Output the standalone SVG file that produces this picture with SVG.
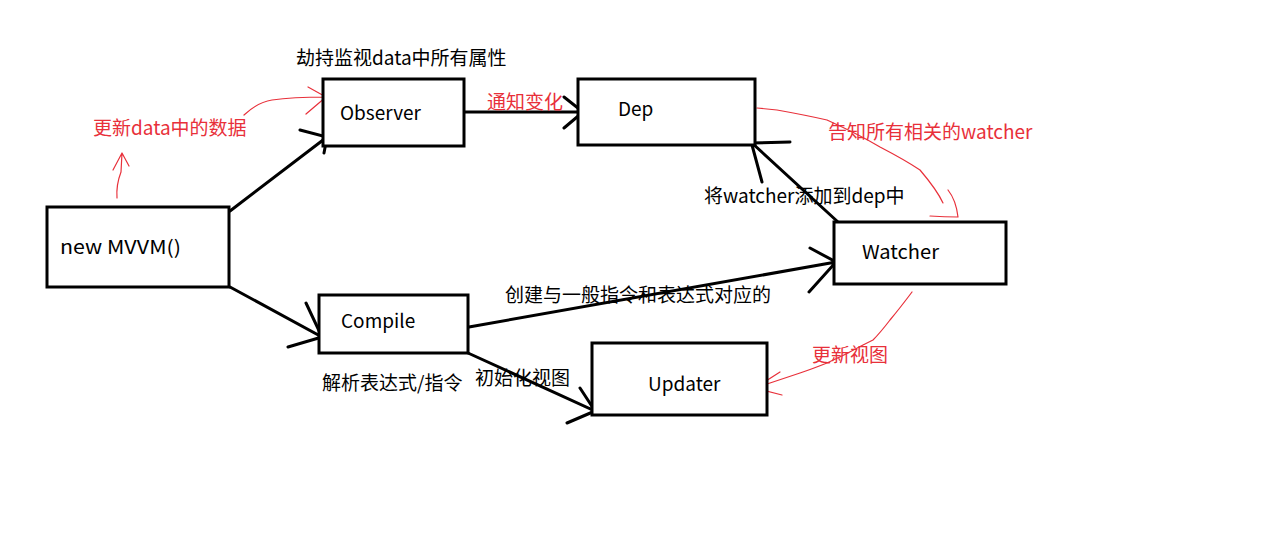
<svg xmlns="http://www.w3.org/2000/svg" width="1276" height="533" viewBox="0 0 1276 533">
<style>
.box{fill:#fff;stroke:#000;stroke-width:3}
.ln{stroke:#000;stroke-width:3;fill:none;stroke-linecap:round}
.rd{stroke:#e8303a;stroke-width:1.2;fill:none;stroke-linecap:round;stroke-linejoin:round}
text{font-family:"Microsoft YaHei","Noto Sans CJK SC","Noto Sans",sans-serif;font-size:19px}
.k{fill:#000}
.r{fill:#e8303a}
</style>
<rect width="1276" height="533" fill="#fff"/>
<g id="connectors">
  <path class="ln" d="M230,211 L327,137 M300,130 L327,137 L324,153"/>
  <path class="ln" d="M462,112 L583,112 M564,97 L583,112 L564,128"/>
  <path class="ln" d="M838,222 L752,143 L790,142 M752,145 L762,182"/>
  <path class="ln" d="M469,327 L836,262 M810,248 L836,262 L809,292"/>
  <path class="ln" d="M230,287 L322,337 L306,303 M322,337 L288,347"/>
  <path class="ln" d="M468,353 L595,411 L580,388 M595,411 L567,423"/>
  <path class="rd" d="M117,198 Q116,185 121,172 L122,153 M113,170 L122,153 L129,166"/>
  <path class="rd" d="M244,115 Q258,102 272,100 Q292,97 326,97 M308,87 L326,97 L306,114"/>
  <path class="rd" d="M757,108 L777,110 Q805,115 827,120 Q860,135 880,147 Q905,160 920,170 Q937,190 943,203 M948,190 Q956,200 958,217 Q945,217 930,216"/>
  <path class="rd" d="M912,292 Q900,308 890,320 Q880,333 873,340 L863,345 Q845,355 827,363 Q812,369 800,373 Q785,378 770,383 L755,388 M780,372 L755,388 L782,395"/>
</g>
<g id="mvvm"><rect class="box" x="47" y="207" width="182" height="80"/><text class="k" x="60" y="254" textLength="121" lengthAdjust="spacingAndGlyphs">new MVVM()</text></g>
<g id="observer"><rect class="box" x="323" y="79" width="141" height="67"/><text class="k" x="340" y="120">Observer</text></g>
<g id="dep"><rect class="box" x="578" y="79" width="177" height="66"/><text class="k" x="618" y="116">Dep</text></g>
<g id="watcher"><rect class="box" x="834" y="222" width="172" height="62"/><text class="k" x="862" y="259" textLength="77" lengthAdjust="spacingAndGlyphs">Watcher</text></g>
<g id="compile"><rect class="box" x="319" y="295" width="149" height="58"/><text class="k" x="341" y="328">Compile</text></g>
<g id="updater"><rect class="box" x="592" y="343" width="175" height="72"/><text class="k" x="648" y="391">Updater</text></g>
<g id="labels">
  <text class="k" x="296" y="65">劫持监视data中所有属性</text>
  <text class="r" x="487" y="109">通知变化</text>
  <text class="r" x="93" y="135">更新data中的数据</text>
  <text class="r" x="828" y="139">告知所有相关的watcher</text>
  <text class="k" x="704" y="203">将watcher添加到dep中</text>
  <text class="k" x="505" y="302">创建与一般指令和表达式对应的</text>
  <text class="k" x="322" y="390">解析表达式/指令</text>
  <text class="k" x="475" y="385">初始化视图</text>
  <text class="r" x="812" y="362">更新视图</text>
</g>
</svg>
